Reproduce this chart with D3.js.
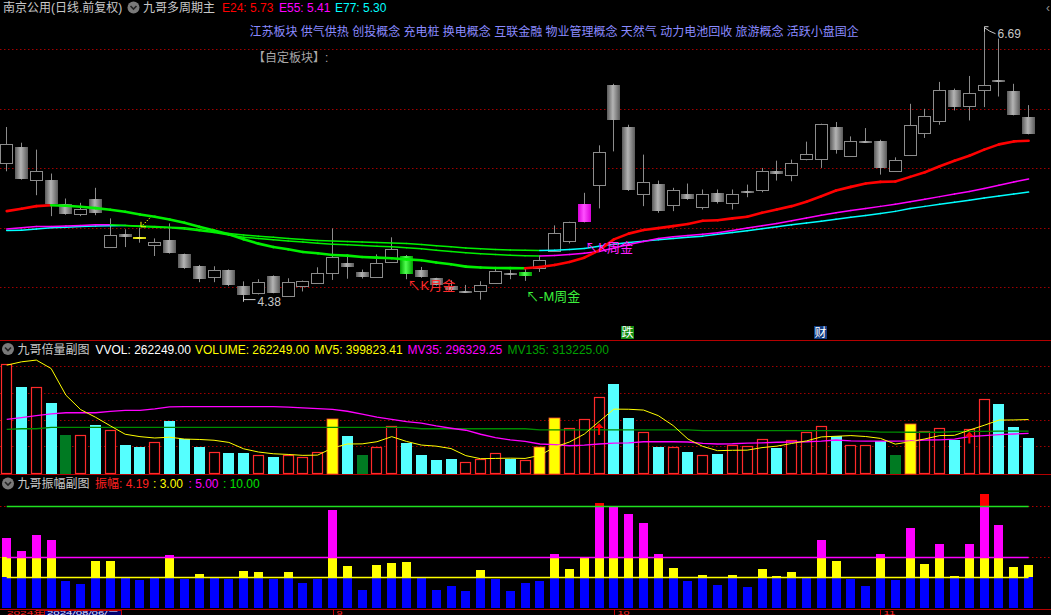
<!DOCTYPE html>
<html>
<head>
<meta charset="utf-8">
<title>南京公用 九哥多周期主</title>
<script src="https://cdn.jsdelivr.net/npm/d3@7/dist/d3.min.js"></script>
<style>
  body { margin: 0; background: #000; overflow: hidden; }
  svg { display: block; font-family: "Liberation Sans", "Noto Sans CJK SC", sans-serif; font-size: 12px; }
</style>
</head>
<body>
<div id="chart"></div>
<script>
////////////////////////////////////////////////////////////////////////
// Data

let dates = [
  "2024-08-01","2024-08-02","2024-08-05","2024-08-06","2024-08-07","2024-08-08","2024-08-09","2024-08-12","2024-08-13","2024-08-14",
  "2024-08-15","2024-08-16","2024-08-19","2024-08-20","2024-08-21","2024-08-22","2024-08-23","2024-08-26","2024-08-27","2024-08-28",
  "2024-08-29","2024-08-30","2024-09-02","2024-09-03","2024-09-04","2024-09-05","2024-09-06","2024-09-09","2024-09-10","2024-09-11",
  "2024-09-12","2024-09-13","2024-09-18","2024-09-19","2024-09-20","2024-09-23","2024-09-24","2024-09-25","2024-09-26","2024-09-27",
  "2024-09-30","2024-10-08","2024-10-09","2024-10-10","2024-10-11","2024-10-14","2024-10-15","2024-10-16","2024-10-17","2024-10-18",
  "2024-10-21","2024-10-22","2024-10-23","2024-10-24","2024-10-25","2024-10-28","2024-10-29","2024-10-30","2024-10-31","2024-11-01",
  "2024-11-04","2024-11-05","2024-11-06","2024-11-07","2024-11-08","2024-11-11","2024-11-12","2024-11-13","2024-11-14","2024-11-15"
];

let open = [
  5.545,5.682,5.40,5.405,5.202,5.115,5.246,4.842,4.944,4.92,
  4.858,4.895,4.777,4.677,4.587,4.643,4.509,4.448,4.593,4.431,
  4.515,4.54,4.616,4.702,4.626,4.587,4.716,4.761,4.643,4.576,
  4.51,4.468,4.465,4.54,4.624,4.591,4.663,4.805,4.889,5.048,
  5.358,6.201,5.849,5.286,5.369,5.19,5.286,5.173,5.296,5.21,
  5.299,5.316,5.481,5.445,5.575,5.579,5.849,5.604,5.718,5.732,
  5.475,5.612,5.797,5.897,6.157,6.023,6.157,6.243,6.151,5.933
];
let high = [
  5.847,5.715,5.657,5.456,5.246,5.21,5.336,5.079,4.987,5.0,
  4.911,5.037,4.783,4.688,4.677,4.65,4.55,4.568,4.60,4.576,
  4.557,4.668,4.995,4.763,4.649,4.777,4.92,4.771,4.671,4.58,
  4.559,4.52,4.551,4.657,4.646,4.666,4.763,5.02,5.051,5.294,
  5.693,6.21,5.866,5.615,5.397,5.336,5.372,5.322,5.322,5.322,
  5.363,5.503,5.564,5.573,5.724,5.875,5.889,5.768,5.838,5.74,
  5.592,6.042,6.0,6.226,6.17,6.276,6.69,6.59,6.21,6.031
];
let low = [
  5.475,5.405,5.274,5.098,5.11,5.098,5.106,4.842,4.838,4.875,
  4.763,4.783,4.655,4.543,4.543,4.51,4.38,4.44,4.45,4.425,
  4.465,4.535,4.562,4.572,4.574,4.58,4.71,4.568,4.58,4.515,
  4.47,4.457,4.396,4.535,4.568,4.554,4.629,4.80,4.869,5.045,
  5.163,5.642,5.31,5.182,5.126,5.14,5.235,5.154,5.204,5.154,
  5.257,5.299,5.397,5.391,5.567,5.503,5.623,5.60,5.715,5.447,
  5.47,5.605,5.755,5.866,5.986,5.902,6.014,6.103,5.945,5.785
];
let close = [
  5.704,5.414,5.481,5.196,5.118,5.154,5.123,4.942,4.922,4.905,
  4.884,4.791,4.662,4.571,4.649,4.518,4.434,4.543,4.453,4.543,
  4.557,4.618,4.752,4.674,4.587,4.702,4.825,4.612,4.587,4.52,
  4.478,4.472,4.523,4.641,4.607,4.629,4.733,4.959,5.048,5.204,
  5.637,5.902,5.316,5.386,5.14,5.319,5.238,5.286,5.221,5.286,
  5.311,5.478,5.45,5.545,5.62,5.872,5.651,5.729,5.729,5.5,
  5.57,5.863,5.939,6.157,6.017,6.131,6.198,6.224,5.952,5.785
];

// moving averages on the price panel
let e24 = [
  5.140,5.160,5.182,5.190,5.185,5.177,5.165,5.152,5.135,5.112,
  5.093,5.070,5.043,5.009,4.978,4.945,4.903,4.867,4.838,4.819,
  4.797,4.786,4.771,4.766,4.755,4.749,4.744,4.735,4.727,4.708,
  4.693,4.674,4.666,4.662,4.661,4.660,4.671,4.688,4.713,4.749,
  4.811,4.903,4.951,4.981,4.997,5.014,5.032,5.059,5.064,5.079,
  5.093,5.126,5.154,5.182,5.219,5.265,5.313,5.344,5.372,5.386,
  5.389,5.428,5.467,5.517,5.564,5.606,5.657,5.701,5.726,5.731
];
let e55 = [
  4.99,5.0,5.01,5.01,5.015,5.02,5.025,5.025,5.02,5.01,
  5.005,5.0,4.99,4.975,4.96,4.94,4.92,4.91,4.9,4.89,
  4.88,4.87,4.862,4.858,4.852,4.846,4.84,4.833,4.823,4.812,
  4.8,4.79,4.782,4.776,4.77,4.766,4.764,4.768,4.775,4.786,
  4.8,4.83,4.86,4.885,4.91,4.925,4.935,4.945,4.959,4.978,
  4.998,5.018,5.037,5.06,5.083,5.105,5.127,5.145,5.163,5.18,
  5.197,5.219,5.24,5.262,5.284,5.305,5.33,5.357,5.385,5.41
];
let e77 = [
  4.978,4.98,4.99,5.0,5.005,5.01,5.015,5.018,5.019,5.015,
  5.01,5.005,5.0,4.985,4.967,4.952,4.94,4.93,4.92,4.911,
  4.902,4.894,4.889,4.884,4.88,4.876,4.872,4.869,4.86,4.85,
  4.84,4.83,4.824,4.818,4.813,4.811,4.81,4.811,4.818,4.827,
  4.845,4.862,4.876,4.888,4.9,4.91,4.92,4.93,4.945,4.96,
  4.976,4.993,5.009,5.025,5.04,5.056,5.072,5.088,5.104,5.12,
  5.138,5.162,5.18,5.197,5.214,5.232,5.25,5.267,5.284,5.30
];

// volume panel
let volume = [
  819000,642000,646000,521000,281000,281000,356000,324000,206000,191000,
  233000,386000,256000,191000,159000,153000,146000,138000,123000,135000,
  116000,159000,401000,274000,138000,198000,349000,221000,138000,101000,
  108000,83000,103000,151000,108000,101000,197000,415000,337000,405000,
  571000,664000,408000,307000,197000,197000,159000,136000,145000,212000,
  204000,254000,189000,247000,307000,352000,280000,212000,212000,239000,
  136000,370000,317000,340000,245000,332000,551000,513000,342000,262249
];
// r = hollow red, c = cyan, y = yellow (double volume), g = dark green
let volKind = [
  "r","c","r","c","g","r","c","r","c","c",
  "r","c","c","c","r","c","c","r","c","r",
  "r","r","y","c","g","r","r","c","c","c",
  "c","r","r","r","c","r","y","y","r","r",
  "r","c","c","r","c","r","c","r","c","r",
  "r","r","c","r","r","r","c","r","r","c",
  "g","y","r","r","c","r","r","c","c","c"
];
let mv5 = [
  807000,832000,845000,782000,582000,474000,417000,353000,290000,272000,
  262000,268000,254000,251000,245000,229000,181000,157000,144000,139000,
  132000,134000,187000,217000,218000,234000,272000,236000,209000,201000,
  183000,130000,107000,109000,111000,109000,132000,194000,232000,291000,
  385000,478000,477000,471000,429000,355000,254000,199000,167000,170000,
  171000,190000,201000,221000,240000,270000,275000,280000,273000,259000,
  216000,234000,255000,280000,282000,321000,357000,396000,397000,399823.41
];
let mv35 = [
  401000,415000,430000,442000,451000,451000,451000,461000,469000,469000,
  480000,495000,497000,497000,497000,497000,497000,497000,496000,493000,
  488000,482000,476000,462000,440000,418000,402000,385000,374000,352000,
  335000,320000,290000,265000,248000,236000,217000,212000,204000,209000,
  217000,224000,226000,234000,234000,234000,232000,221000,217000,219000,
  224000,226000,230000,232000,234000,239000,247000,240000,239000,239000,
  239000,240000,247000,248000,254000,272000,280000,287000,292000,296329.25
];
let mv135 = [
  326000,331000,331000,341000,341000,341000,341000,341000,341000,341000,
  341000,341000,341000,341000,341000,341000,341000,341000,341000,341000,
  341000,341000,341000,341000,341000,341000,341000,341000,331000,331000,
  331000,331000,331000,331000,331000,331000,322000,322000,322000,322000,
  322000,322000,322000,322000,322000,322000,322000,317000,317000,317000,
  317000,317000,317000,317000,317000,317000,317000,313000,313000,306000,
  306000,305000,305000,305000,310000,311000,312000,313000,313000,313225
];

// amplitude panel (%)
let amp = [
  6.78,5.50,7.08,6.59,2.55,2.35,4.52,4.52,2.95,2.65,
  2.94,5.11,2.75,3.24,2.94,2.84,3.54,3.44,2.84,3.44,
  2.45,2.84,9.54,4.03,1.76,4.13,4.32,4.42,2.94,1.76,
  2.06,1.57,3.64,2.84,1.57,2.44,2.63,5.29,3.81,4.89,
  10.2,9.96,9.14,8.25,5.2,3.91,2.63,3.22,2.24,3.22,
  2.04,3.81,3.12,3.52,2.92,6.58,4.6,2.82,2.14,5.2,
  2.72,7.75,4.3,6.27,3.12,6.27,11.1,8.05,4.01,4.19
];
let ampLevels = [3, 5, 10];

let priceTicks = [4.5, 5, 5.5, 6, 6.5];
let volTicks = [200000, 400000, 600000, 800000];

let blocks = "江苏板块 供气供热 创投概念 充电桩 换电概念 互联金融 物业管理概念 天然气 动力电池回收 旅游概念  活跃小盘国企";

// special coloured candles
let specialCandles = {"2024-08-14": "gYel", "2024-09-09": "gGreen", "2024-09-23": "gGreen", "2024-09-27": "gMag"};
// signal labels: date, text, colour
let signals = [
  ["2024-09-09", "↖K月金", "#ff2a2a"],
  ["2024-09-23", "↖-M周金", "#3cf03c"],
  ["2024-09-27", "↖K周金", "#ff20ff"]
];
let volArrows = ["2024-09-30", "2024-11-11"];
let tags = [["2024-10-09", "跌", "#148c14"], ["2024-10-28", "财", "#123c82"]];
let monthTicks = [["2024-09-02", "9"], ["2024-10-08", "10"], ["2024-11-01", "11"]];
let cursorDate = "2024-08-06";

////////////////////////////////////////////////////////////////////////
// Layout and scales

const W = 1051, H = 615;
const f2 = d3.format(".2f");

let svg = d3.select("#chart").append("svg")
  .attr("width", W)
  .attr("height", H);

let x = d3.scaleBand().domain(dates).range([-0.7, 1036]);
let xc = d => x(d) + x.bandwidth() / 2;

let yPrice = d3.scaleLinear().domain([4.5, 6.5]).range([287.3, 49.3]);
let yVol = d3.scaleLinear().domain([0, 800000]).range([473, 366.1]);
let yAmp = d3.scaleLinear().domain([0, 10]).range([607.5, 505.5]);

let days = dates.map((d, i) => ({
  date: d, o: open[i], h: high[i], l: low[i], c: close[i],
  v: volume[i], kind: volKind[i], a: amp[i]
}));

// gradients for the filled candles
let defs = svg.append("defs");
function addGrad(id, edge, mid) {
  let g = defs.append("linearGradient").attr("id", id)
    .attr("x1", 0).attr("x2", 1).attr("y1", 0).attr("y2", 0);
  g.append("stop").attr("offset", "0%").attr("stop-color", edge);
  g.append("stop").attr("offset", "45%").attr("stop-color", mid);
  g.append("stop").attr("offset", "100%").attr("stop-color", edge);
}
addGrad("gGray", "#5a5a5a", "#b4b4b4");
addGrad("gGreen", "#00a000", "#50ff50");
addGrad("gMag", "#d800d8", "#ff50ff");
addGrad("gYel", "#c8c800", "#ffff40");

////////////////////////////////////////////////////////////////////////
// Grid lines and panel separators

let grid = svg.append("g");
grid.selectAll(".pg").data(priceTicks).enter().append("line")
  .attr("x1", 0).attr("x2", W)
  .attr("y1", d => Math.round(yPrice(d)) + 0.5)
  .attr("y2", d => Math.round(yPrice(d)) + 0.5)
  .attr("stroke", "#a00000").attr("stroke-dasharray", "1.5,2.5");

grid.selectAll(".vg").data(volTicks).enter().append("line")
  .attr("x1", 0).attr("x2", W)
  .attr("y1", d => Math.round(yVol(d)) + 0.5)
  .attr("y2", d => Math.round(yVol(d)) + 0.5)
  .attr("stroke", "#a00000").attr("stroke-dasharray", "1.5,2.5");

grid.selectAll(".sep").data([340.5, 474.5, 609.5]).enter().append("line")
  .attr("x1", 0).attr("x2", W)
  .attr("y1", d => d).attr("y2", d => d)
  .attr("stroke", "#b40000");

////////////////////////////////////////////////////////////////////////
// Candles

let cg = svg.append("g").selectAll("g").data(days).enter().append("g");

cg.append("line")
  .attr("x1", d => Math.round(xc(d.date) - 6.5) + 6.5)
  .attr("x2", d => Math.round(xc(d.date) - 6.5) + 6.5)
  .attr("y1", d => yPrice(d.h))
  .attr("y2", d => yPrice(d.l))
  .attr("stroke", "#8c8c8c");

cg.append("rect")
  .each(function(d) {
    let x0 = Math.round(xc(d.date) - 6.5);
    let top = Math.round(yPrice(Math.max(d.o, d.c)));
    let bot = Math.round(yPrice(Math.min(d.o, d.c)));
    let hgt = Math.max(1, bot - top);
    let special = specialCandles[d.date];
    let el = d3.select(this);
    if (special) {
      el.attr("x", x0).attr("y", top).attr("width", 13).attr("height", Math.max(2, hgt))
        .attr("fill", "url(#" + special + ")");
    } else if (d.c > d.o && hgt > 2) {
      // rising day: hollow box
      el.attr("x", x0 + 0.5).attr("y", top + 0.5).attr("width", 12).attr("height", hgt)
        .attr("fill", "#000").attr("stroke", "#8c8c8c");
    } else {
      el.attr("x", x0).attr("y", top).attr("width", 13).attr("height", Math.max(2, hgt))
        .attr("fill", "url(#gGray)");
    }
  });

////////////////////////////////////////////////////////////////////////
// EMA lines: segments turn green while the line is falling

function drawEma(vals, color, width) {
  let pts = vals.map((v, i) => [xc(dates[i]), yPrice(v), v]);
  svg.append("g").selectAll("line")
    .data(d3.pairs(pts))
    .enter().append("line")
    .attr("x1", d => d[0][0]).attr("y1", d => d[0][1])
    .attr("x2", d => d[1][0]).attr("y2", d => d[1][1])
    .attr("stroke", d => d[1][2] < d[0][2] ? "#00f000" : color)
    .attr("stroke-width", width)
    .attr("stroke-linecap", "round");
}
drawEma(e77, "#00ffff", 1.5);
drawEma(e55, "#ff00ff", 1.5);
drawEma(e24, "#ff0000", 2.6);

// yellow dotted pointer at the yellow doji
let yd = days.find(d => specialCandles[d.date] == "gYel");
let ydx = xc(yd.date), ydy = yPrice(yd.h);
svg.append("path")
  .attr("d", `M${ydx + 10},${ydy - 10} L${ydx + 2},${ydy - 2}`)
  .attr("stroke", "#ffff00").attr("stroke-dasharray", "1.5,1.5");
svg.append("path")
  .attr("d", `M${ydx + 1},${ydy - 6} L${ydx + 1},${ydy - 1} L${ydx + 6},${ydy - 1}`)
  .attr("stroke", "#ffff00").attr("fill", "none");

// highest / lowest price marks
let hi = d3.maxIndex(high), lo = d3.minIndex(low);
let hx = Math.round(xc(dates[hi]) - 6.5) + 6.5, hy = yPrice(high[hi]);
svg.append("path")
  .attr("d", `M${hx},${hy} h4 M${hx},${hy} v5 M${hx},${hy + 1} q5,4 11,6`)
  .attr("stroke", "#c8c8c8").attr("fill", "none");
svg.append("text").attr("x", hx + 13).attr("y", hy + 11)
  .attr("fill", "#c8c8c8").text(f2(high[hi]));

let lx = Math.round(xc(dates[lo]) - 6.5) + 6.5, ly = yPrice(low[lo]);
svg.append("path")
  .attr("d", `M${lx},${ly - 5} v5 M${lx},${ly - 2} h12`)
  .attr("stroke", "#c8c8c8").attr("fill", "none");
svg.append("text").attr("x", lx + 14).attr("y", ly + 4)
  .attr("fill", "#c8c8c8").text(f2(low[lo]));

// signal labels
let sigDy = [11, 20, 30];
signals.forEach((s, i) => {
  let idx = dates.indexOf(s[0]);
  svg.append("text")
    .attr("x", xc(s[0]) + 1)
    .attr("y", yPrice(low[idx]) + sigDy[i])
    .attr("fill", s[2])
    .attr("font-size", "13px")
    .text(s[1]);
});

// small boxed tags above the volume panel
tags.forEach(t => {
  let tx = Math.round(xc(t[0]) - 7.5);
  svg.append("rect").attr("x", tx).attr("y", 326).attr("width", 13).attr("height", 13).attr("fill", t[2]);
  svg.append("text").attr("x", tx + 0.5).attr("y", 337).attr("fill", "#ffffff").text(t[1]);
});

////////////////////////////////////////////////////////////////////////
// Headers

function icon(cx, cy) {
  svg.append("circle").attr("cx", cx).attr("cy", cy).attr("r", 6).attr("fill", "#7a7a7a");
  svg.append("path").attr("d", `M${cx - 3},${cy - 1.5} L${cx},${cy + 1.5} L${cx + 3},${cy - 1.5}`)
    .attr("stroke", "#222").attr("stroke-width", 1.6).attr("fill", "none");
}

function label(xp, yp, color, str) {
  svg.append("text").attr("x", xp).attr("y", yp).attr("fill", color).text(str);
}

label(3, 12, "#c8c8c8", "南京公用(日线.前复权)");
icon(133.5, 7.5);
label(143, 12, "#c8c8c8", "九哥多周期主");
label(222, 12, "#ff0000", "E24: " + f2(e24[e24.length - 1]));
label(279, 12, "#ff00ff", "E55: " + f2(e55[e55.length - 1]));
label(335, 12, "#00ffff", "E77: " + f2(e77[e77.length - 1]));
svg.append("text").attr("x", 1046).attr("y", 12).attr("fill", "#909090").text("‹");
label(249.5, 35.5, "#8a8aff", blocks);
label(253, 62, "#a8a8a8", "【自定板块】:");

icon(8, 349);
label(17.5, 353.5, "#c8c8c8", "九哥倍量副图");
label(95.5, 353.5, "#ffffff", "VVOL: " + f2(volume[volume.length - 1]));
label(195, 353.5, "#ffff00", "VOLUME: " + f2(volume[volume.length - 1]));
label(314.5, 353.5, "#ffff00", "MV5: " + f2(mv5[mv5.length - 1]));
label(407.5, 353.5, "#ff00ff", "MV35: " + f2(mv35[mv35.length - 1]));
label(507.5, 353.5, "#00a000", "MV135: " + f2(mv135[mv135.length - 1]));

icon(8, 483.5);
label(17.5, 488, "#c8c8c8", "九哥振幅副图");
label(95, 488, "#ff2020", "振幅: " + f2(amp[amp.length - 1]));
label(153, 488, "#ffff00", ": " + f2(ampLevels[0]));
label(188.5, 488, "#ff00ff", ": " + f2(ampLevels[1]));
label(223, 488, "#00e000", ": " + f2(ampLevels[2]));

////////////////////////////////////////////////////////////////////////
// Volume panel

let vcol = {r: "#000", c: "#55ffff", y: "#ffff00", g: "#007a22"};
svg.append("g").selectAll("rect").data(days).enter().append("rect")
  .each(function(d) {
    let x0 = Math.round(xc(d.date) - 5.5);
    let top = Math.round(yVol(d.v));
    let el = d3.select(this);
    if (d.kind == "r") {
      el.attr("x", x0 + 0.5).attr("y", top + 0.5).attr("width", 10).attr("height", 473 - top)
        .attr("fill", "#000").attr("stroke", "#ff2a2a").attr("stroke-width", 1.2);
    } else {
      el.attr("x", x0).attr("y", top).attr("width", 11).attr("height", 474 - top)
        .attr("fill", vcol[d.kind]);
      if (d.kind == "y") el.attr("stroke", "#ff4a2a").attr("stroke-width", 0.8);
    }
  });

function volLine(vals, color, width) {
  svg.append("path")
    .datum(vals)
    .attr("d", d3.line().x((d, i) => xc(dates[i])).y(d => yVol(d)))
    .attr("fill", "none")
    .attr("stroke", color)
    .attr("stroke-width", width);
}
volLine(mv135, "#008a00", 1.3);
volLine(mv35, "#ff00ff", 1.3);
volLine(mv5, "#ffff00", 1);

volArrows.forEach(dt => {
  let ax = xc(dt), ay = yVol(mv5[dates.indexOf(dt)]) + 1.5;
  svg.append("path")
    .attr("d", `M${ax},${ay} L${ax - 4.5},${ay + 5} L${ax - 1},${ay + 5} L${ax - 1},${ay + 12} L${ax + 1},${ay + 12} L${ax + 1},${ay + 5} L${ax + 4.5},${ay + 5} Z`)
    .attr("fill", "#ff0000");
});

////////////////////////////////////////////////////////////////////////
// Amplitude panel: bars stacked by threshold band

let bands = [[0, 3, "#0000ff"], [3, 5, "#ffff00"], [5, 10, "#ff00ff"], [10, 100, "#ff0000"]];
let pieces = [];
days.forEach(d => {
  bands.forEach(b => {
    if (d.a > b[0]) pieces.push({date: d.date, lo: b[0], hi: Math.min(d.a, b[1]), color: b[2]});
  });
});

// dotted guides behind the level lines
svg.append("g").selectAll("line").data([5, 10]).enter().append("line")
  .attr("x1", 0).attr("x2", W)
  .attr("y1", d => Math.round(yAmp(d)) + 0.5).attr("y2", d => Math.round(yAmp(d)) + 0.5)
  .attr("stroke", "#b00000").attr("stroke-dasharray", "1.5,2.5");

svg.append("g").selectAll("rect").data(pieces).enter().append("rect")
  .attr("x", d => Math.round(xc(d.date) - 4.5))
  .attr("width", 9)
  .attr("y", d => Math.round(yAmp(d.hi)))
  .attr("height", d => Math.round(yAmp(d.lo)) - Math.round(yAmp(d.hi)))
  .attr("fill", d => d.color);

let levelColor = ["#ffff00", "#ff00ff", "#20e020"];
svg.append("g").selectAll("line").data(ampLevels).enter().append("line")
  .attr("x1", xc(dates[0])).attr("x2", xc(dates[dates.length - 1]))
  .attr("y1", d => Math.round(yAmp(d)) + 0.5).attr("y2", d => Math.round(yAmp(d)) + 0.5)
  .attr("stroke", (d, i) => levelColor[i])
  .attr("stroke-width", 1.3);

////////////////////////////////////////////////////////////////////////
// Date strip at the very bottom (only a 5px sliver is in the window,
// so the texts are squeezed to fit inside it)

let bottom = svg.append("g").attr("font-size", "6px");
bottom.append("text").attr("x", 7).attr("y", 614.5).attr("fill", "#ff2020")
  .attr("textLength", 38).attr("lengthAdjust", "spacingAndGlyphs")
  .text("2024年");
let cd = d3.timeParse("%Y-%m-%d")(cursorDate);
let week = ["日", "一", "二", "三", "四", "五", "六"][cd.getDay()];
let bx = Math.round(x(cursorDate));
bottom.append("rect").attr("x", bx + 0.5).attr("y", 610.5).attr("width", 77).attr("height", 14)
  .attr("fill", "#00006e").attr("stroke", "#c00000");
bottom.append("text").attr("x", bx + 3).attr("y", 614.5).attr("fill", "#e0e0ff")
  .attr("textLength", 72).attr("lengthAdjust", "spacingAndGlyphs")
  .text(d3.timeFormat("%Y/%m/%d")(cd) + "/" + week);

monthTicks.forEach(m => {
  let mx = Math.round(xc(m[0])) + 0.5;
  bottom.append("line").attr("x1", mx).attr("x2", mx).attr("y1", 609).attr("y2", 615).attr("stroke", "#c00000");
  bottom.append("text").attr("x", mx + 3).attr("y", 614.5).attr("fill", "#ff2020")
    .attr("textLength", m[1].length * 6).attr("lengthAdjust", "spacingAndGlyphs")
    .text(m[1]);
});
</script>
</body>
</html>
